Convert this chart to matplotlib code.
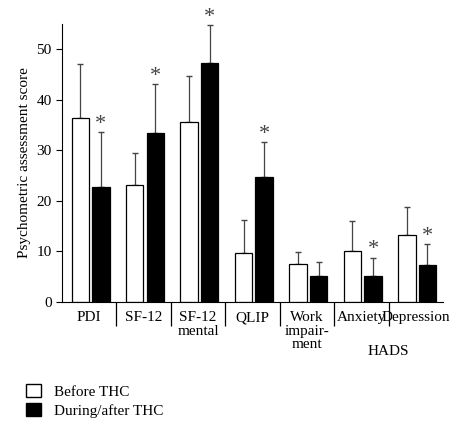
import matplotlib
matplotlib.use("Agg")
import matplotlib.pyplot as plt
import numpy as np
from matplotlib.patches import Patch

plt.rcParams['font.family'] = ['Liberation Serif', 'DejaVu Serif']

categories = ["PDI", "SF-12", "SF-12\nmental", "QLIP", "Work\nimpair-\nment", "Anxiety", "Depression"]
before = [36.4, 23.1, 35.6, 9.7, 7.6, 10.0, 13.3]
before_top = [47.1, 29.4, 44.7, 16.3, 9.9, 16.1, 18.8]
after = [22.8, 33.4, 47.3, 24.7, 5.2, 5.2, 7.3]
after_top = [33.6, 43.1, 54.8, 31.6, 7.9, 8.8, 11.4]
signif = [True, True, True, True, False, True, True]

fig = plt.figure(figsize=(4.67, 4.25), dpi=100)
ax = fig.add_axes([62/467, 1-302/425, (443-62)/467, (302-24)/425])
x = np.arange(len(categories))
w = 0.32
xb = x + 0.335
xa = x + 0.715
eb = np.array(before_top) - np.array(before)
ea = np.array(after_top) - np.array(after)
ax.bar(xb, before, w, color='white', edgecolor='black', linewidth=0.9, zorder=2)
ax.bar(xa, after, w, color='black', edgecolor='black', linewidth=0.9, zorder=2)
ax.errorbar(xb, before, yerr=[np.zeros(7), eb], fmt='none', ecolor='#444', elinewidth=0.9, capsize=2.5, zorder=1)
ax.errorbar(xa, after, yerr=[np.zeros(7), ea], fmt='none', ecolor='#444', elinewidth=0.9, capsize=2.5, zorder=1)
for i, s in enumerate(signif):
    if s:
        ax.text(xa[i], after_top[i] - 0.3, "*", ha='center', va='bottom', fontsize=16, color='#444')

ax.set_xlim(0, 7)
ax.set_ylim(0, 55)
ax.set_yticks([0, 10, 20, 30, 40, 50])
ax.set_xticks([])
ax.set_xticks(np.arange(1, 7), minor=True)
ax.tick_params(axis='x', which='minor', length=17, direction='out', width=0.9)
ax.tick_params(axis='y', labelsize=11, direction='out', length=4)
for sp in ['top', 'right']:
    ax.spines[sp].set_visible(False)
for i, c in enumerate(categories):
    ax.text(i + 0.5, -1.8, c, ha='center', va='top', fontsize=11, linespacing=1.05)
ax.text(6.0, -8.5, "HADS", ha='center', va='top', fontsize=11)
ax.set_ylabel("Psychometric assessment score", fontsize=11)

handles = [Patch(facecolor='white', edgecolor='black'), Patch(facecolor='black', edgecolor='black')]
fig.legend(handles, ["Before THC", "During/after THC"], loc='upper left', bbox_to_anchor=(20/467, 1-378/425),
           frameon=False, fontsize=11, handlelength=1.0, handleheight=0.9, labelspacing=0.3, borderaxespad=0)
fig.savefig("out.png", dpi=100)
